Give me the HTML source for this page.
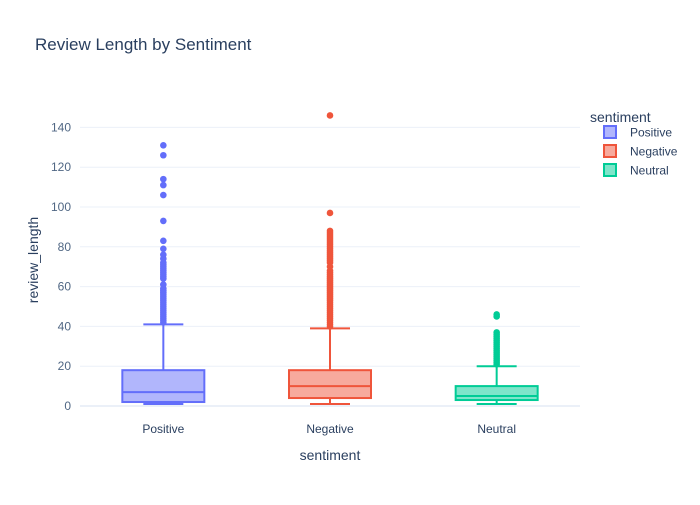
<!DOCTYPE html>
<html><head><meta charset="utf-8"><style>
body{margin:0;background:#fff}
svg text{font-family:"Liberation Sans",Arial,sans-serif}
</style></head><body>
<svg id="c" width="700" height="500" xmlns="http://www.w3.org/2000/svg">
<rect width="700" height="500" fill="#fff"/>
<text x="35" y="50" font-size="17" fill="#2a3f5f">Review Length by Sentiment</text>
<g id="grid"></g><g id="boxes"></g>
<text x="330" y="460" font-size="14" fill="#2a3f5f" text-anchor="middle">sentiment</text>
<text transform="translate(38,260) rotate(-90)" font-size="14" fill="#2a3f5f" text-anchor="middle">review_length</text>
<g>
<text x="590" y="122" font-size="14" fill="#2a3f5f">sentiment</text>
<g id="leg"></g>
</g>
</svg>
<script>
const categories=["Positive","Negative","Neutral"];
const colors=["#636efa","#EF553B","#00cc96"];
const fills=["rgba(99,110,250,0.5)","rgba(239,85,59,0.5)","rgba(0,204,150,0.5)"];
const q1=[2,4,3];
const medians=[7,10,5];
const q3=[18,18,10];
const lowerFence=[1,1,1];
const upperFence=[41,39,20];
const outPositive=[131,126,114,111,106,93,83,79,76,74,72,71,70,69,68,67,66,65,64,61,59,58,57,56,55,54,53,52,51,50,49,48,47,46,45,44,43,42];
const outNegative=[146,97,88,87,86,85,84,83,82,81,80,79,78,77,76,75,74,73,72,70,68,67,66,65,64,63,62,61,60,59,58,57,56,55,54,53,52,51,50,49,48,47,46,45,44,43,42,41,40];
const outNeutral=[46,45,37,36,35,34,33,32,31,30,29,28,27,26,25,24,23,22,21];
const outliers=[outPositive,outNegative,outNeutral];
const yTicks=[0,20,40,60,80,100,120,140];
const NS="http://www.w3.org/2000/svg";
const X0=80,X1=580,Y0=406,PX=1.99;
const xs=i=>X0+(X1-X0)/categories.length*(i+0.5);
const ys=v=>Y0-v*PX;
function mk(t,a,p){const e=document.createElementNS(NS,t);for(const k in a)e.setAttribute(k,a[k]);p.appendChild(e);return e;}
const grid=document.getElementById('grid');
yTicks.forEach(v=>{
 const l=mk('line',{x1:X0,x2:X1,y1:ys(v),y2:ys(v),stroke:v===0?'#ebf0f8':'#ebf0f8','stroke-width':v===0?2:1},grid);
 
 
 const t=mk('text',{x:X0-9,y:ys(v)+4,'font-size':12,fill:'#506784','text-anchor':'end'},grid);
 t.textContent=v;
 
 
});
const bx=document.getElementById('boxes');
const hw=41,cw=20;
categories.forEach((c,i)=>{
 const g=mk('g',{},bx);
 
 
 const cx=xs(i),col=colors[i];
 mk('line',{x1:cx,x2:cx,y1:ys(q3[i]),y2:ys(upperFence[i]),stroke:col,'stroke-width':2},g);
 mk('line',{x1:cx,x2:cx,y1:ys(q1[i]),y2:ys(lowerFence[i]),stroke:col,'stroke-width':2},g);
 mk('line',{x1:cx-cw,x2:cx+cw,y1:ys(upperFence[i]),y2:ys(upperFence[i]),stroke:col,'stroke-width':2},g);
 mk('line',{x1:cx-cw,x2:cx+cw,y1:ys(lowerFence[i]),y2:ys(lowerFence[i]),stroke:col,'stroke-width':2},g);
 mk('rect',{x:cx-hw,y:ys(q3[i]),width:2*hw,height:ys(q1[i])-ys(q3[i]),fill:fills[i],stroke:col,'stroke-width':2},g);
 mk('line',{x1:cx-hw,x2:cx+hw,y1:ys(medians[i]),y2:ys(medians[i]),stroke:col,'stroke-width':2},g);
 outliers[i].forEach(v=>{
  const p=mk('circle',{cx:cx,cy:ys(v),r:3.3,fill:col},g);
  
  
 });
 const t=mk('text',{x:cx,y:433,'font-size':12,fill:'#2a3f5f','text-anchor':'middle'},bx);
 t.textContent=c;
 
 
 const lg=document.getElementById('leg');
 const e=mk('g',{},lg);
 
 
 const ly=132+i*19;
 mk('rect',{x:604,y:ly-6,width:12,height:12,fill:fills[i],stroke:col,'stroke-width':2},e);
 const lt=mk('text',{x:630,y:ly+4.5,'font-size':12,fill:'#2a3f5f'},e);
 lt.textContent=c;
});
</script>
</body></html>
